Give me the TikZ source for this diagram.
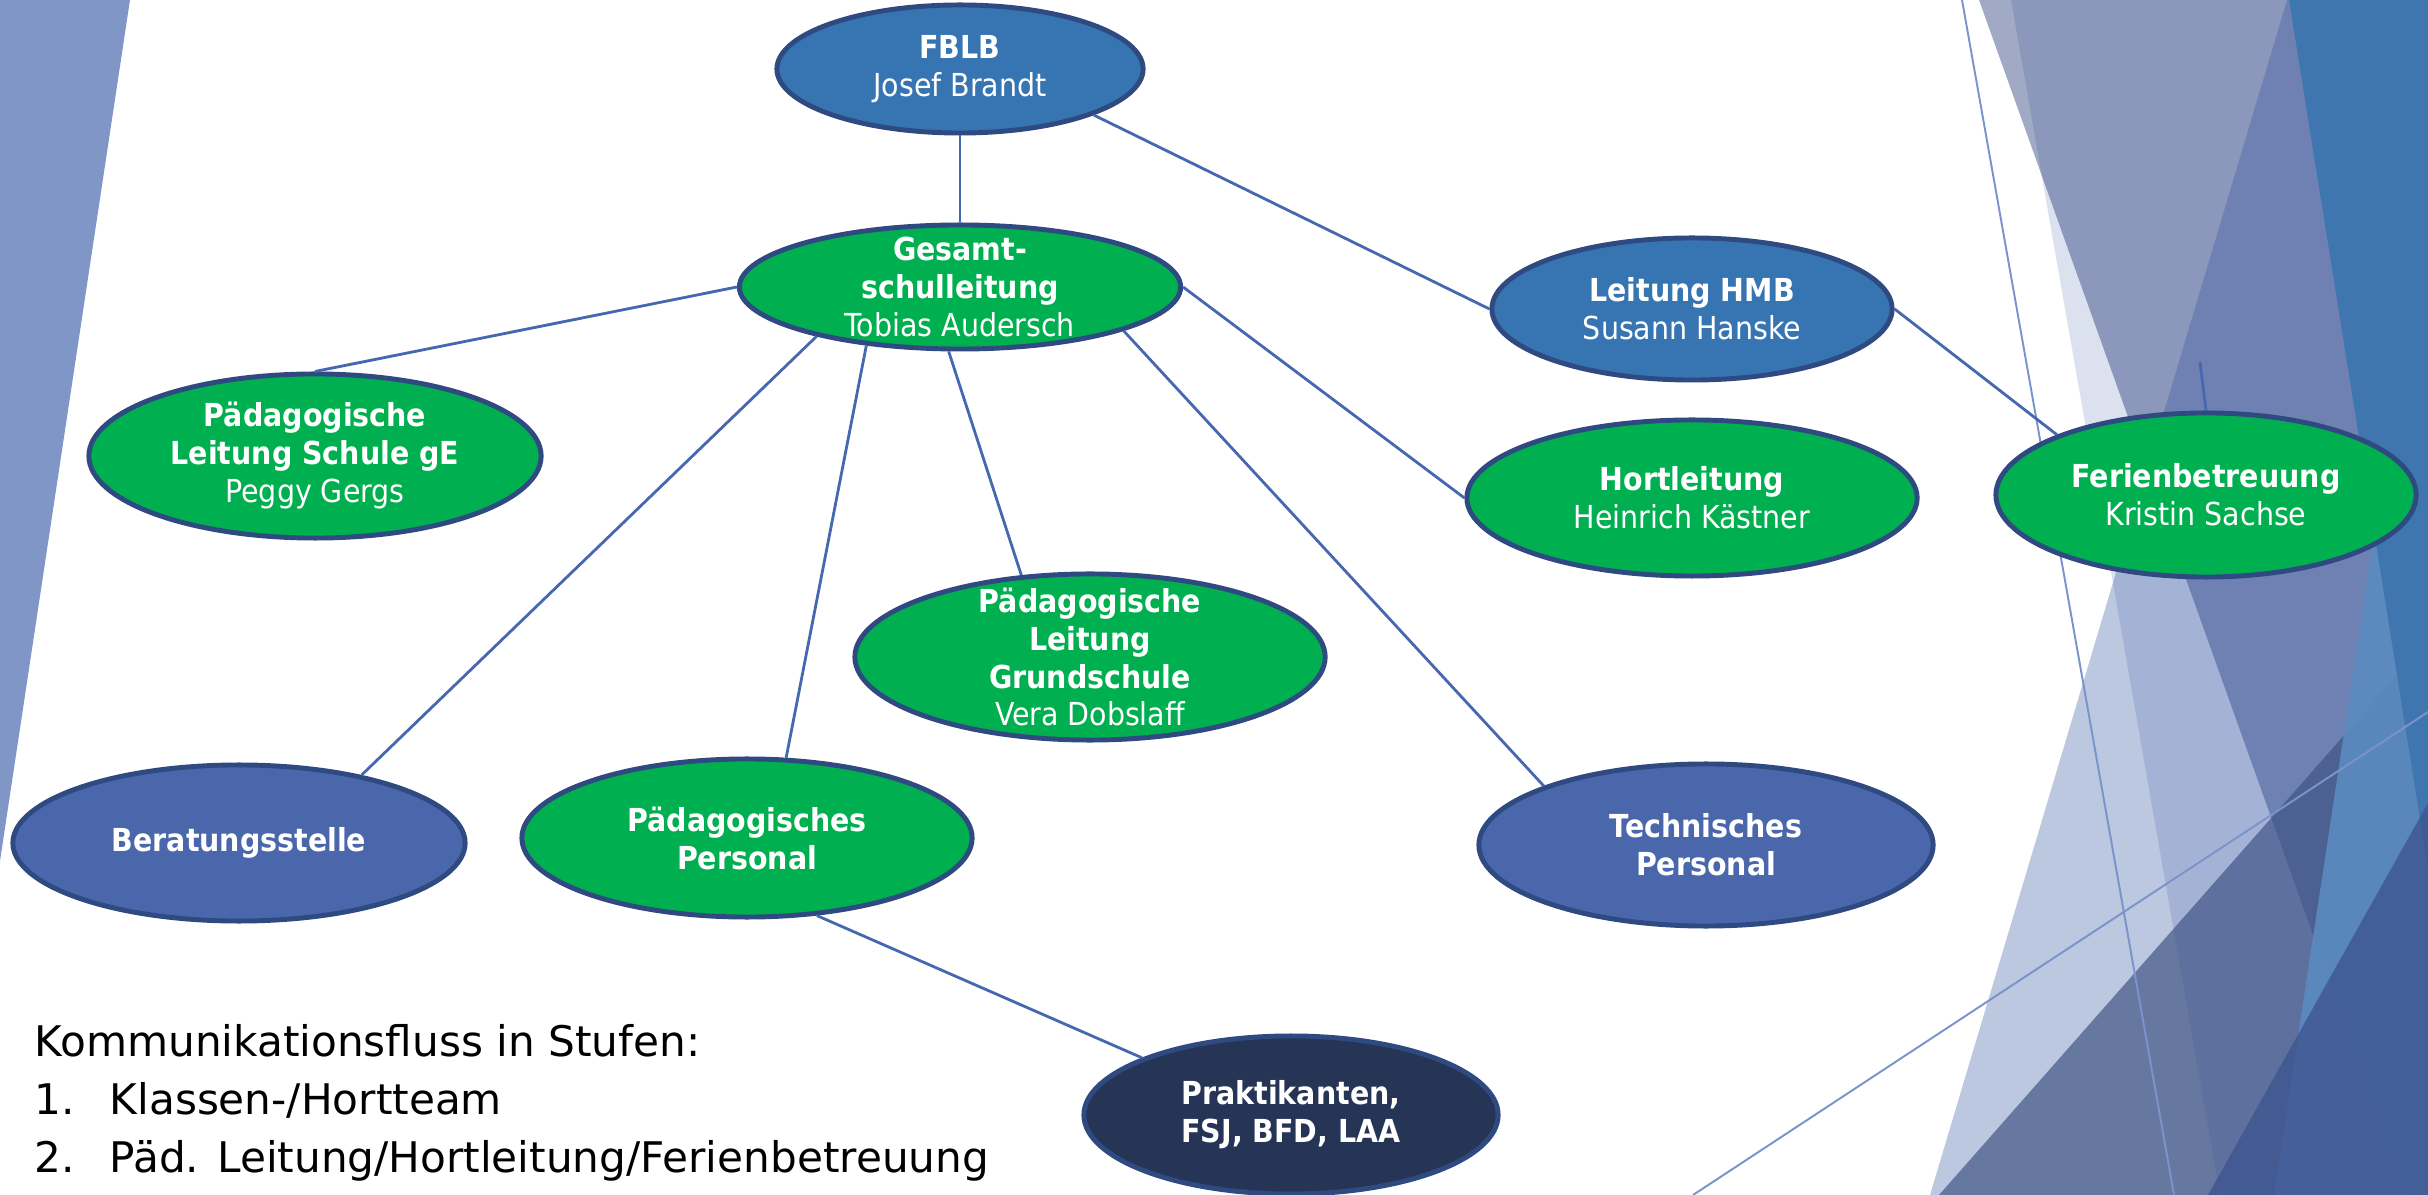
\documentclass[tikz,border=0pt]{standalone}
\usepackage{fontspec}
\setmainfont{DejaVu Sans Condensed}
\newfontfamily\notefont{DejaVu Sans}
\usetikzlibrary{shapes.geometric}

\definecolor{leaderblue}{HTML}{3775B2}
\definecolor{teamgreen}{HTML}{00B050}
\definecolor{staffblue}{HTML}{4A67AC}
\definecolor{internnavy}{HTML}{263556}
\definecolor{rim}{HTML}{2F4A80}
\definecolor{linkblue}{HTML}{4668B0}
\definecolor{strayblue}{HTML}{7B93CB}
\definecolor{stripblue}{HTML}{7F96C6}
\definecolor{facetA}{HTML}{4F6BB0}
\definecolor{facetB}{HTML}{122B6E}
\definecolor{facetC}{HTML}{3355A1}
\definecolor{facetD}{HTML}{3E5182}
\definecolor{facetE}{HTML}{5B8BC0}
\definecolor{facetF}{HTML}{3E76B0}
\definecolor{facetG}{HTML}{3E5591}

\begin{document}
\begin{tikzpicture}[x=0.01cm,y=-0.01cm]
\tikzstyle{unit} = [ellipse,draw=rim,line width=1.4pt,inner sep=0pt];
\tikzstyle{leader} = [unit,fill=leaderblue];
\tikzstyle{team} = [unit,fill=teamgreen];
\tikzstyle{staff} = [unit,fill=staffblue];
\tikzstyle{intern} = [unit,fill=internnavy];
\tikzstyle{caption} = [text=white,align=center,inner sep=0pt,font=\fontsize{9}{10.8}\selectfont];
\tikzstyle{link} = [draw=linkblue,line width=0.8pt];
\tikzstyle{stray} = [draw=strayblue,line width=0.55pt];
\tikzstyle{note} = [anchor=base west,inner sep=0pt,font=\notefont\fontsize{12}{14}\selectfont];

\useasboundingbox (0,0) rectangle (2428,1195);

% slide background
\fill[stripblue] (0,0) -- (130,0) -- (0,861) -- cycle;
\fill[facetA,fill opacity=0.2] (2011,0) -- (2428,0) -- (2428,1195) -- (2220,1195) -- cycle;
\fill[facetB,fill opacity=0.4] (1979,0) -- (2428,0) -- (2428,1195) -- (2406,1195) -- cycle;
\fill[facetC,fill opacity=0.33] (2287,0) -- (2428,0) -- (2428,1195) -- (1930,1195) -- cycle;
\fill[facetD,fill opacity=0.68] (1939,1195) -- (2428,640) -- (2428,1195) -- cycle;
\fill[facetE,fill opacity=0.9] (2428,178) -- (2274,1195) -- (2428,1195) -- cycle;
\fill[facetF,fill opacity=0.95] (2289,0) -- (2428,0) -- (2428,869) -- cycle;
\fill[facetG,fill opacity=0.8] (2208,1195) -- (2428,803) -- (2428,1195) -- cycle;
\draw[stray] (1962,0) -- (2174,1195);
\draw[stray] (1693,1195) -- (2428,712);

\node [leader,minimum width=3.66cm,minimum height=1.28cm] (fblb) at (960,69) {};
\node [caption] at (fblb) {\textbf{FBLB}\\Josef Brandt};
\node [team,minimum width=4.41cm,minimum height=1.24cm] (gesamt) at (960,287) {};
\node [caption] at (gesamt) {\textbf{Gesamt-}\\\textbf{schulleitung}\\Tobias Audersch};
\node [leader,minimum width=4cm,minimum height=1.42cm] (hmb) at (1692,309) {};
\node [caption] at (hmb) {\textbf{Leitung HMB}\\Susann Hanske};
\node [team,minimum width=4.5cm,minimum height=1.56cm] (hort) at (1692,498) {};
\node [caption] at (hort) {\textbf{Hortleitung}\\Heinrich Kästner};
\node [team,minimum width=4.2cm,minimum height=1.64cm] (ferien) at (2206,495) {};
\node [caption] at (ferien) {\textbf{Ferienbetreuung}\\Kristin Sachse};
\node [team,minimum width=4.52cm,minimum height=1.64cm] (schulege) at (315,456) {};
\node [caption] at (schulege) {\textbf{Pädagogische}\\\textbf{Leitung Schule gE}\\Peggy Gergs};
\node [team,minimum width=4.7cm,minimum height=1.66cm] (grundschule) at (1090,657) {};
\node [caption] at (grundschule) {\textbf{Pädagogische}\\\textbf{Leitung}\\\textbf{Grundschule}\\Vera Dobslaff};
\node [staff,minimum width=4.52cm,minimum height=1.56cm] (berat) at (239,843) {};
\node [caption] at (berat) {\textbf{Beratungsstelle}};
\node [team,minimum width=4.5cm,minimum height=1.58cm] (paedpers) at (747,838) {};
\node [caption] at (paedpers) {\textbf{Pädagogisches}\\\textbf{Personal}};
\node [staff,minimum width=4.54cm,minimum height=1.62cm] (technik) at (1706,845) {};
\node [caption] at (technik) {\textbf{Technisches}\\\textbf{Personal}};
\node [intern,minimum width=4.14cm,minimum height=1.58cm] (prakt) at (1291,1115) {};
\node [caption] at (prakt) {\textbf{Praktikanten,}\\\textbf{FSJ, BFD, LAA}};

\coordinate (stub) at (2200,362);
\draw [link] (fblb.south) -- (gesamt.north);
\draw [link] (fblb.-19) -- (hmb.180);
\draw [link] (gesamt.180) -- (schulege.90);
\draw [link] (gesamt.-161) -- (berat.29);
\draw [link] (gesamt.-148) -- (paedpers.64);
\draw [link] (gesamt.-100) -- (grundschule.130);
\draw [link] (gesamt.-15) -- (technik.160);
\draw [link] (gesamt.0) -- (hort.180);
\draw [link] (hmb.0) -- (ferien.158);
\draw [link] (paedpers.-48) -- (prakt.159);
\draw [link] (stub) -- (ferien.north);

\node [note] (stufen) at (34,1056) {Kommunikationsfluss in Stufen:};
\node [note] (stufe1) at (34,1114) {\makebox[0.75cm][l]{1.}Klassen-/Hortteam};
\node [note] (stufe2) at (34,1172) {\makebox[0.75cm][l]{2.}Päd. Leitung/Hortleitung/Ferienbetreuung};
\end{tikzpicture}
\end{document}
